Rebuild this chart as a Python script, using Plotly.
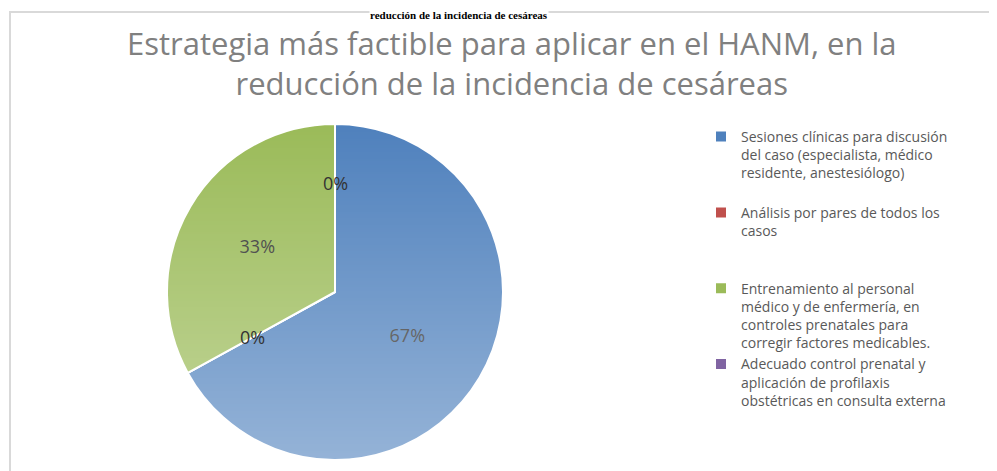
import base64, math, struct, zlib
import plotly.graph_objects as go

# ---- data ----
categories = [
    "Sesiones clínicas para discusión<br>del caso (especialista, médico<br>residente, anestesiólogo)",
    "Análisis por pares de todos los<br>casos",
    "Entrenamiento al personal<br>médico y de enfermería, en<br>controles prenatales para<br>corregir factores medicables.",
    "Adecuado control prenatal y<br>aplicación de profilaxis<br>obstétricas en consulta externa",
]
values = [67, 0, 33, 0]
colors = ["#4f81bd", "#c0504d", "#9bbb59", "#8064a2"]
title_text = "Estrategia más factible para aplicar en el HANM, en la<br>reducción de la incidencia de cesáreas"
top_text = "reducción de la incidencia de cesáreas"

# the page body has an 8px margin: the figure starts at (8, 8) of the window
OFF = 8
FW, FH = 997 - OFF, 471 - OFF

def px_x(p):
    return (p - OFF) / FW

def px_y(p):
    return 1 - (p - OFF) / FH

# pad legend entries to equal height (4 lines each)
legend_labels = []
for c in categories:
    n = c.count("<br>") + 1
    legend_labels.append(c + "<br> " * (4 - n))

# pie geometry (window pixels)
cx, cy, r = 335, 292, 168
label_font = dict(family="Open Sans", size=18, color="#333333")

fig = go.Figure()
fig.add_trace(go.Pie(
    labels=legend_labels,
    values=values,
    sort=False,
    direction="clockwise",
    rotation=0,
    marker=dict(colors=colors, line=dict(color="white", width=2)),
    texttemplate="%{percent:.0%}",
    textposition="inside",
    insidetextorientation="horizontal",
    textfont=label_font,
    domain=dict(x=[px_x(cx - r), px_x(cx + r)], y=[px_y(cy + r), px_y(cy - r)]),
    showlegend=True,
    hoverinfo="label+percent",
))

# labels for zero-valued slices (plotly does not draw them): placed on the slice boundary
total = sum(values)
cum = 0
for v in values:
    if v == 0:
        ang = 2 * math.pi * (cum / total)
        rr = r * (0.65 if cum % total == 0 else 0.56)
        lx = cx + rr * math.sin(ang)
        ly = cy - rr * math.cos(ang)
        fig.add_annotation(text="0%", xref="paper", yref="paper",
                           x=px_x(lx), y=px_y(ly), showarrow=False,
                           xanchor="center", yanchor="middle", font=label_font)
    cum += v

# gradient overlay (white, transparent at top -> 40% at bottom)
def grad_png(h=256, amax=0.40):
    raw = b""
    for i in range(h):
        a = int(round(amax * 255 * i / (h - 1)))
        raw += b"\x00" + bytes([255, 255, 255, a])
    def chunk(t, d):
        c = struct.pack(">I", len(d)) + t + d
        return c + struct.pack(">I", zlib.crc32(t + d) & 0xffffffff)
    png = b"\x89PNG\r\n\x1a\n" + chunk(b"IHDR", struct.pack(">IIBBBBB", 1, h, 8, 6, 0, 0, 0))
    png += chunk(b"IDAT", zlib.compress(raw)) + chunk(b"IEND", b"")
    return "data:image/png;base64," + base64.b64encode(png).decode()

fig.add_layout_image(dict(
    source=grad_png(), xref="paper", yref="paper",
    x=px_x(cx - r - 2), y=px_y(cy - r - 2),
    sizex=(2 * r + 4) / FW, sizey=(2 * r + 4) / FH,
    xanchor="left", yanchor="top", sizing="stretch", layer="above",
))

# chart frame
fig.add_shape(type="rect", xref="paper", yref="paper",
              x0=px_x(10), x1=px_x(1010), y0=px_y(490), y1=px_y(12),
              line=dict(color="#d9d9d9", width=2), fillcolor="rgba(0,0,0,0)")

# chart title
fig.add_annotation(text=title_text, xref="paper", yref="paper",
                   x=px_x(512), y=px_y(63), xanchor="center", yanchor="middle",
                   showarrow=False, align="center",
                   font=dict(family="Open Sans", size=31, color="#808080"))

# document caption above the frame (kept inside the figure)
fig.add_annotation(text="<b>" + top_text + "</b>", xref="paper", yref="paper",
                   x=px_x(459), y=px_y(OFF), xanchor="center", yanchor="top",
                   showarrow=False, borderpad=0, bgcolor="white",
                   font=dict(family="Liberation Serif", size=11, color="#000000"))

fig.update_layout(
    width=FW, height=FH,
    margin=dict(l=0, r=0, t=0, b=0),
    paper_bgcolor="white", plot_bgcolor="white",
    legend=dict(x=px_x(701), y=px_y(121), xanchor="left", yanchor="top",
                valign="top", font=dict(family="Open Sans", size=14, color="#595959"),
                bgcolor="rgba(0,0,0,0)", itemclick=False, tracegroupgap=0),
)

fig.write_html("out.html")
